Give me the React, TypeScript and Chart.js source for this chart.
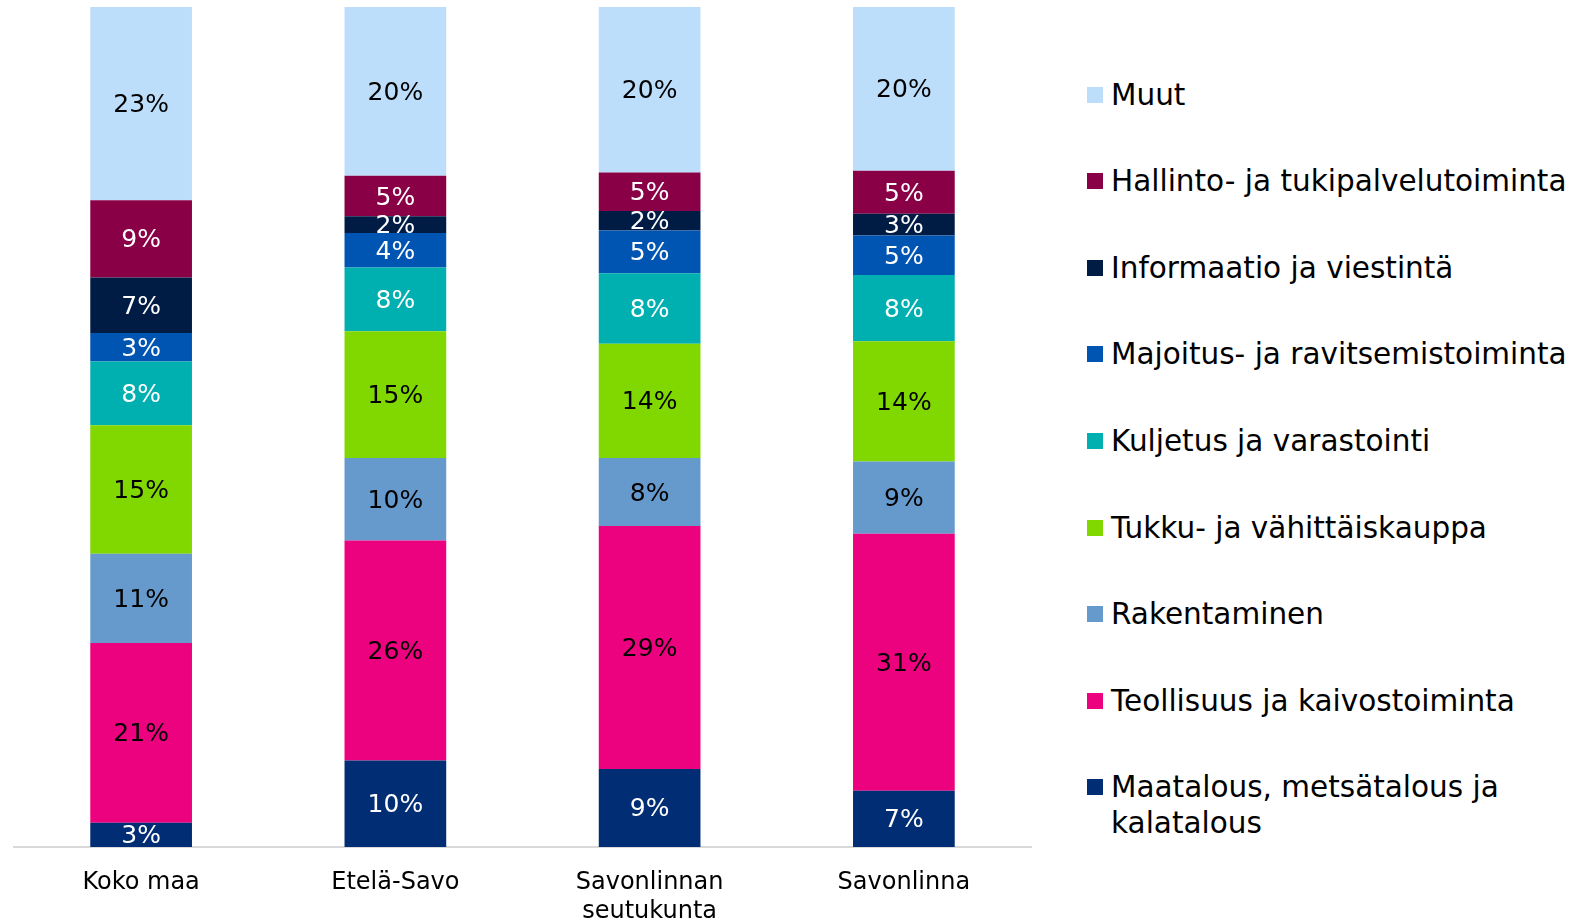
import React, { useEffect, useRef } from "react";
import { Chart, registerables } from "chart.js";

Chart.register(...registerables);

const categories: (string | string[])[] = ["Koko maa", "Etelä-Savo", ["Savonlinnan", "seutukunta"], "Savonlinna"];

const seriesNames = [
  "Maatalous, metsätalous ja kalatalous",
  "Teollisuus ja kaivostoiminta",
  "Rakentaminen",
  "Tukku- ja vähittäiskauppa",
  "Kuljetus ja varastointi",
  "Majoitus- ja ravitsemistoiminta",
  "Informaatio ja viestintä",
  "Hallinto- ja tukipalvelutoiminta",
  "Muut",
];

const maatalous = [2.9, 10.3, 9.3, 6.7];
const teollisuus = [21.4, 26.2, 28.9, 30.6];
const rakentaminen = [10.6, 9.8, 8.1, 8.6];
const tukku = [15.3, 15.1, 13.6, 14.3];
const kuljetus = [7.6, 7.6, 8.4, 7.9];
const majoitus = [3.4, 4.1, 5.1, 4.7];
const informaatio = [6.6, 2.0, 2.3, 2.6];
const hallinto = [9.2, 4.8, 4.6, 5.1];
const muut = [23.0, 20.1, 19.7, 19.5];

const seriesValues = [maatalous, teollisuus, rakentaminen, tukku, kuljetus, majoitus, informaatio, hallinto, muut];

const colors = ["#002D74", "#EC017F", "#6699CC", "#80D800", "#00AFB0", "#0055B3", "#001C45", "#8A0046", "#BDDEFB"];
const labelColors = ["#FFFFFF", "#000000", "#000000", "#000000", "#FFFFFF", "#FFFFFF", "#FFFFFF", "#FFFFFF", "#000000"];

const FONT = "'DejaVu Sans', Verdana, sans-serif";

const labelPlugin = {
  id: "segLabels",
  afterDatasetsDraw(chart: any) {
    const ctx = chart.ctx;
    ctx.save();
    ctx.font = `25px ${FONT}`;
    ctx.textAlign = "center";
    ctx.textBaseline = "middle";
    chart.data.datasets.forEach((ds: any, i: number) => {
      const meta = chart.getDatasetMeta(i);
      meta.data.forEach((bar: any, j: number) => {
        const v = ds.data[j];
        const yc = (bar.y + bar.base) / 2;
        ctx.fillStyle = labelColors[i];
        ctx.fillText(Math.round(v) + "%", bar.x, yc + 2);
      });
    });
    ctx.restore();
  },
};

export default function App() {
  const ref = useRef<HTMLCanvasElement>(null);
  useEffect(() => {
    const chart = new Chart(ref.current!, {
      type: "bar",
      data: {
        labels: categories as any,
        datasets: seriesNames.map((name, i) => ({
          label: name,
          data: seriesValues[i],
          backgroundColor: colors[i],
          borderWidth: 0,
          barPercentage: 0.4,
          categoryPercentage: 1,
        })),
      },
      options: {
        responsive: false,
        animation: false,
        devicePixelRatio: 1,
        layout: { padding: { left: 14, right: 19, top: 7, bottom: 0 } },
        plugins: { legend: { display: false }, tooltip: { enabled: false } },
        scales: {
          x: {
            stacked: true,
            grid: { display: false },
            border: { display: true, color: "#D9D9D9", width: 2 },
            ticks: { color: "#000", padding: 13, font: { family: FONT, size: 24, lineHeight: 1.21 } },
            afterFit: (s: any) => {
              s.height = 73;
            },
          },
          y: { stacked: true, display: false, min: 0, max: 100 },
        },
      },
      plugins: [labelPlugin],
    });
    return () => chart.destroy();
  }, []);

  const legendOrder = seriesNames.map((_, i) => seriesNames.length - 1 - i);

  return (
    <div style={{ position: "absolute", left: 0, top: 0, width: 1578, height: 920, background: "#fff" }}>
      <canvas ref={ref} width={1050} height={920} style={{ position: "absolute", left: 0, top: 0 }} />
      {legendOrder.map((si, row) => (
        <div
          key={si}
          style={{
            position: "absolute",
            left: 1087,
            top: 94.5 + row * 86.6 - 18,
            width: 490,
            display: "flex",
            alignItems: "flex-start",
            fontFamily: FONT,
            fontSize: 29.5,
            lineHeight: "36px",
            color: "#000",
          }}
        >
          <div style={{ width: 16, height: 16, background: colors[si], marginTop: 10, flex: "0 0 16px" }} />
          <div style={{ marginLeft: 8, maxWidth: 466 }}>{seriesNames[si]}</div>
        </div>
      ))}
    </div>
  );
}
